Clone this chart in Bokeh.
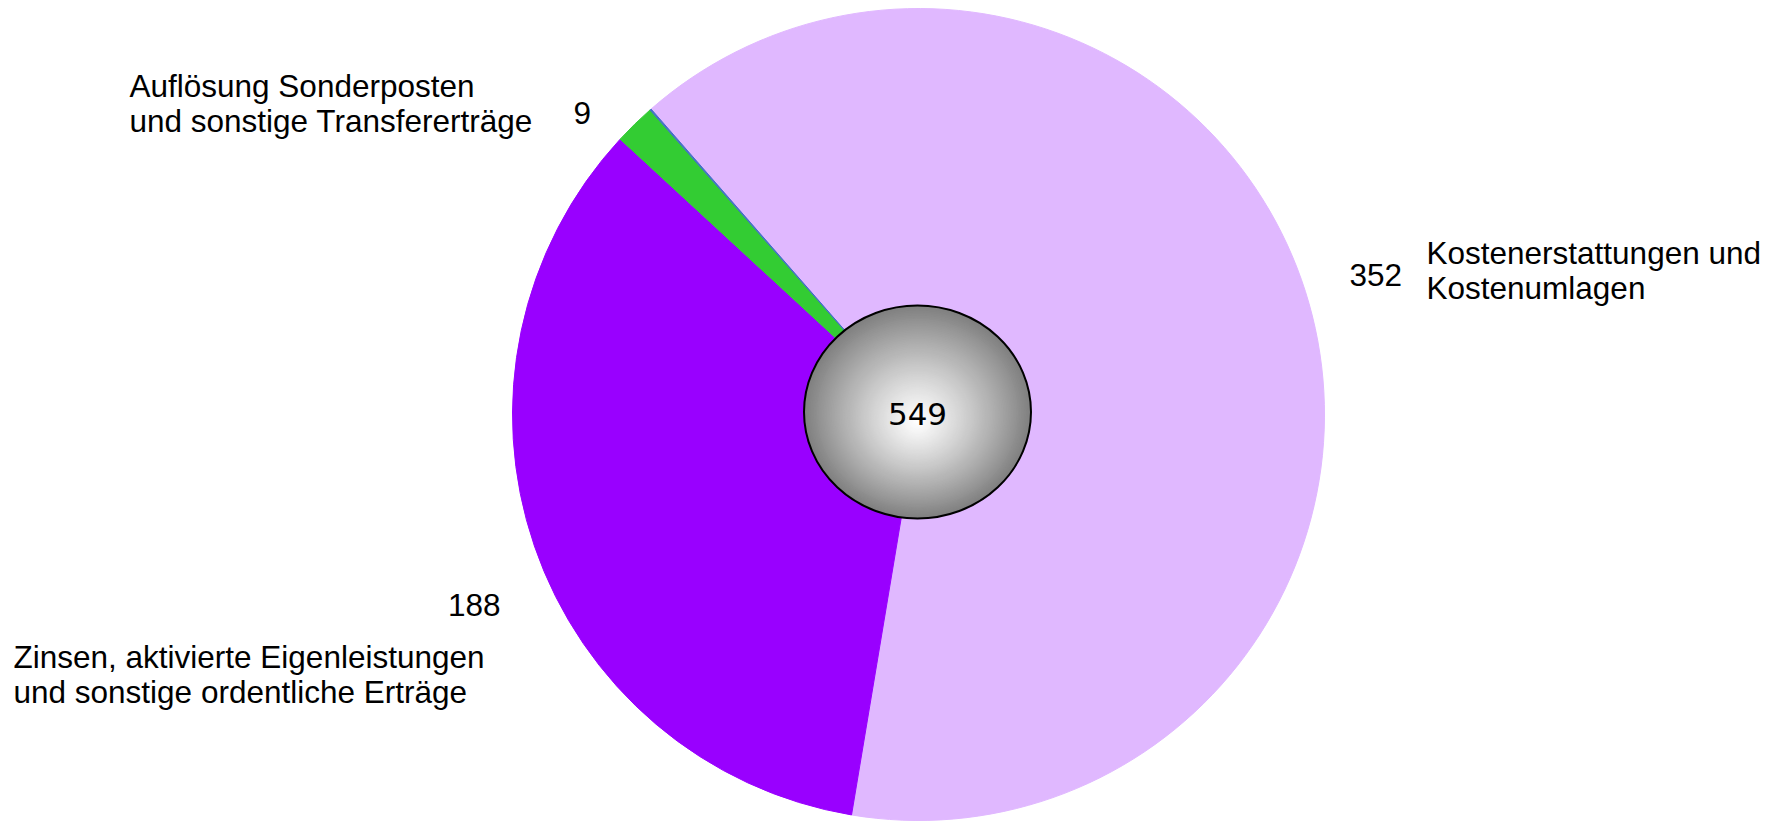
import math
from bokeh.plotting import figure
from bokeh.models import Range1d, ColumnDataSource
from bokeh.core.properties import value
from bokeh.embed import file_html
from bokeh.resources import INLINE

# ---------------- data ----------------
categories = [
    "Kostenerstattungen und Kostenumlagen",
    "Zinsen, aktivierte Eigenleistungen und sonstige ordentliche Erträge",
    "Auflösung Sonderposten und sonstige Transfererträge",
    "Sonstige",
]
values = [352, 188, 9, 0.3]
value_labels = ["352", "188", "9", ""]
total_label = "549"
colors = ["#E0B8FF", "#9900FF", "#33CC33", "#4472C4"]

# ---------------- layout ----------------
W, H = 1779, 823
TEXT_DY = -11  # correction for svg text baseline placement


def px(X, Y):
    """screenshot pixel -> data coords"""
    return X, H - Y


p = figure(width=W, height=H, output_backend="svg", toolbar_location=None,
           x_range=Range1d(0, W), y_range=Range1d(0, H), min_border=0)
p.axis.visible = False
p.grid.visible = False
p.outline_line_color = None
p.background_fill_color = "white"
p.border_fill_color = "white"

cx, cy = px(918, 414)
R = 406
start_theta = -41.2  # degrees clockwise from 12 o'clock

tot = sum(values)
starts, ends = [], []
cum = 0.0
a0 = math.radians(90 - start_theta)
for v in values:
    starts.append(a0 - cum / tot * 2 * math.pi)
    cum += v
    ends.append(a0 - cum / tot * 2 * math.pi)

src = ColumnDataSource(dict(x=[cx] * len(values), y=[cy] * len(values),
                            start=starts, end=ends, color=colors, cat=categories))
p.wedge(x="x", y="y", radius=R, start_angle="start", end_angle="end",
        direction="clock", fill_color="color", line_color="color",
        line_width=1, source=src)

# ---------------- center bubble with radial gradient ----------------
ex, ey = px(917, 411.5)
fx, fy = px(917, 421)
EW, EH = 227, 213
N = 70
for i in range(N):
    s = 1 - i / N
    gx = ex + (fx - ex) * (1 - s)
    gy = ey + (fy - ey) * (1 - s)
    g = int(round(255 - 127 * (s ** 1.15)))
    col = "#%02x%02x%02x" % (g, g, g)
    p.ellipse(x=gx, y=gy, width=EW * s, height=EH * s,
              fill_color=col, line_color=None)
p.ellipse(x=ex, y=ey, width=EW, height=EH, fill_color=None,
          line_color="black", line_width=2)

tx, ty = px(917, 424 + TEXT_DY)
p.text(x=[tx], y=[ty], text=[total_label], text_align="center",
       text_baseline="alphabetic", text_font=value("DejaVu Sans"),
       text_font_size="31px", text_color="black")

# ---------------- labels ----------------
font = value("Liberation Sans")
fs = "31.5px"

label_specs = [
    # (text, X, Y baseline, align)
    ("Auflösung Sonderposten", 129, 96, "left"),
    ("und sonstige Transfererträge", 129, 131, "left"),
    (value_labels[2], 573, 123.5, "left"),
    (value_labels[0], 1349, 285, "left"),
    ("Kostenerstattungen und", 1426, 263, "left"),
    ("Kostenumlagen", 1426, 298, "left"),
    (value_labels[1], 500, 615, "right"),
    ("Zinsen, aktivierte Eigenleistungen", 13, 667, "left"),
    ("und sonstige ordentliche Erträge", 13, 702, "left"),
]
for t, X, Y, al in label_specs:
    x, y = px(X, Y + TEXT_DY)
    p.text(x=[x], y=[y], text=[t], text_align=al, text_baseline="alphabetic",
           text_font=font, text_font_size=fs, text_color="black")

open("out.html", "w").write(file_html(p, INLINE))
